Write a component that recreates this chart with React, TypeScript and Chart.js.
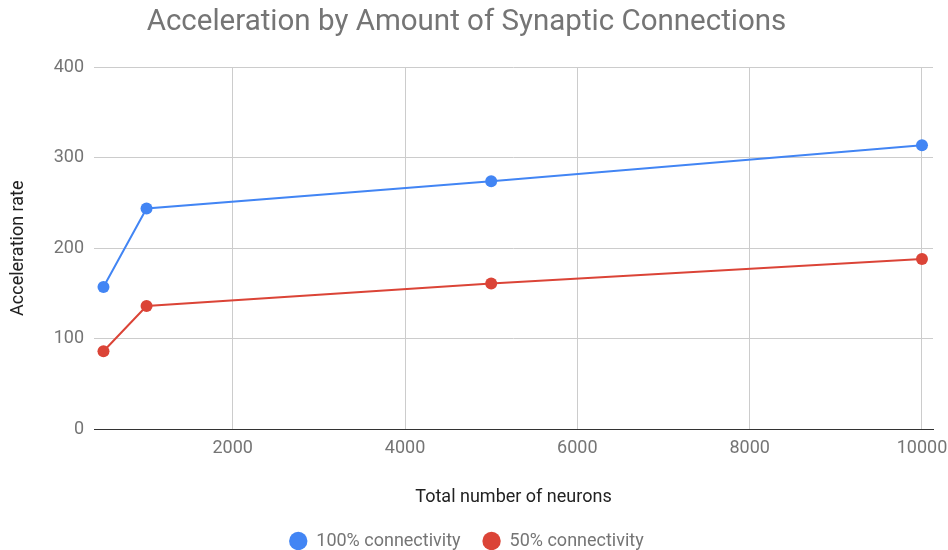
import React, { useEffect, useRef } from "react";
import { Chart, registerables } from "chart.js";

Chart.register(...registerables);

const neurons = [500, 1000, 5000, 10000];
const full = [157, 244, 274, 314];
const half = [86, 136, 161, 188];
const xTicks = [2000, 4000, 6000, 8000, 10000];
const yTicks = [0, 100, 200, 300, 400];
const seriesNames = ["100% connectivity", "50% connectivity"];
const titleText = "Acceleration by Amount of Synaptic Connections";
const xTitle = "Total number of neurons";
const yTitle = "Acceleration rate";

const GRAY = "#757575";
const FONT = "Roboto";

export default function App() {
  const ref = useRef<HTMLCanvasElement>(null);
  useEffect(() => {
    document.body.style.margin = "0";
    const ctx = ref.current!;
    const chart = new Chart(ctx, {
      type: "line",
      data: {
        datasets: [
          {
            label: seriesNames[0],
            data: neurons.map((x, i) => ({ x, y: full[i] })),
            borderColor: "#4285f4",
            backgroundColor: "#4285f4",
            borderWidth: 2,
            pointRadius: 6,
            pointHoverRadius: 6,
            pointBorderWidth: 0,
          },
          {
            label: seriesNames[1],
            data: neurons.map((x, i) => ({ x, y: half[i] })),
            borderColor: "#db4437",
            backgroundColor: "#db4437",
            borderWidth: 2,
            pointRadius: 6,
            pointHoverRadius: 6,
            pointBorderWidth: 0,
          },
        ],
      },
      options: {
        responsive: false,
        animation: false,
        layout: { padding: { left: 0, right: 15, top: 0, bottom: -10 } },
        plugins: {
          title: {
            display: true,
            text: titleText,
            color: GRAY,
            font: { family: FONT, size: 29.5, weight: "normal" },
            padding: { top: 5, bottom: 27 },
          },
          legend: {
            position: "bottom",
            labels: {
              usePointStyle: true,
              pointStyle: "circle",
              boxWidth: 18,
              boxHeight: 13,
              padding: 22,
              color: GRAY,
              font: { family: FONT, size: 18 },
            },
          },
          tooltip: { enabled: false },
        },
        scales: {
          x: {
            type: "linear",
            min: 390,
            max: 10128,
            afterBuildTicks: (s: any) => {
              s.ticks = xTicks.map((v) => ({ value: v }));
            },
            afterFit: (s: any) => {
              s.height = 81;
              s.paddingRight = 0;
              s.paddingLeft = 0;
            },
            grid: { color: "#cccccc", drawTicks: false },
            border: { display: true, color: "#333333", width: 1 },
            ticks: {
              color: GRAY,
              font: { family: FONT, size: 18 },
              padding: 9,
              maxRotation: 0,
              callback: (v: any) => String(v),
            },
            title: {
              display: true,
              text: xTitle,
              color: "#222222",
              font: { family: FONT, size: 18 },
              padding: { top: 0, bottom: 2 },
            },
          },
          y: {
            min: 0,
            max: 400,
            afterBuildTicks: (s: any) => {
              s.ticks = yTicks.map((v) => ({ value: v }));
            },
            afterFit: (s: any) => {
              s.width = 94;
            },
            grid: {
              color: (c: any) => (c.tick && c.tick.value === 0 ? "#333333" : "#cccccc"),
              drawTicks: false,
            },
            border: { display: false },
            ticks: {
              color: GRAY,
              font: { family: FONT, size: 18 },
              padding: 10,
              callback: (v: any) => String(v),
            },
            title: {
              display: true,
              text: yTitle,
              color: "#222222",
              font: { family: FONT, size: 18 },
              padding: { top: 8, bottom: 0 },
            },
          },
        },
      },
    });
    return () => chart.destroy();
  }, []);
  return (
    <div style={{ width: 948, height: 550 }}>
      <canvas ref={ref} width={948} height={550} />
    </div>
  );
}
